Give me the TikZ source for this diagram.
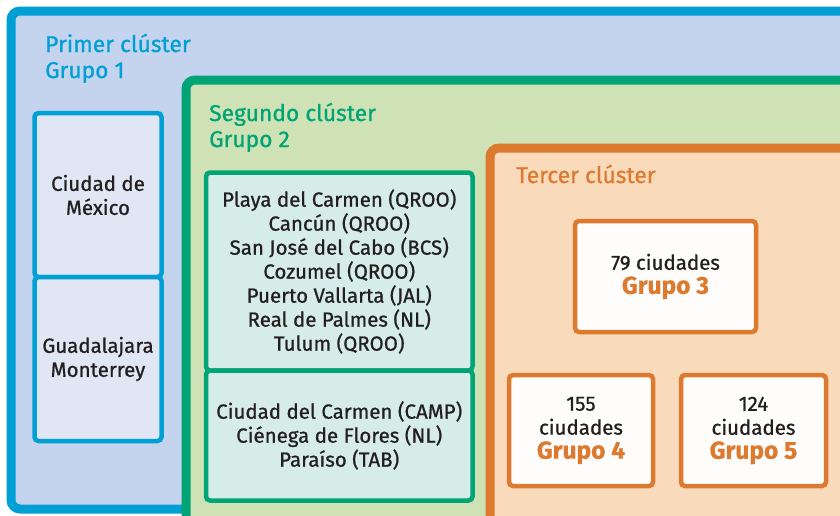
\documentclass[tikz,border=0pt]{standalone}
\usepackage{fontspec}
\setmainfont{Fira Sans}
\newfontfamily\medfont{Fira Sans}[FakeBold=0.8]
\newfontfamily\titlefont{Fira Sans}[FakeBold=0.9]
\definecolor{cblue}{HTML}{009FD4}
\definecolor{cbluefill}{HTML}{C5D4EE}
\definecolor{cblueinner}{HTML}{E0E6F4}
\definecolor{cgreen}{HTML}{00A475}
\definecolor{cgreenfill}{HTML}{CFE2B6}
\definecolor{cgreeninner}{HTML}{D5ECE8}
\definecolor{corange}{HTML}{DC7A30}
\definecolor{corangefill}{HTML}{F9DABA}
\definecolor{corangeinner}{HTML}{FFFDFB}
\definecolor{ctext}{HTML}{231F20}
\newcommand{\grp}[1]{{\color{corange}\fontsize{24.5}{24}\bfseries #1}}
\tikzset{
  outerbox/.style={rectangle, rounded corners=9pt, line width=9pt, inner sep=0pt, outer sep=0pt},
  innerbox/.style={rectangle, rounded corners=4pt, line width=4.5pt, inner sep=0pt, outer sep=0pt,
    align=center, text=ctext, font=\medfont\fontsize{20.5}{24}\selectfont},
  title/.style={anchor=base west, inner sep=0pt, font=\titlefont\fontsize{22.8}{26}\selectfont, align=left},
}
\begin{document}
\begin{tikzpicture}[x=1pt,y=-1pt]
\useasboundingbox (0,0) rectangle (840,515);
\fill[white] (0,0) rectangle (840,515);
\clip (0,0) rectangle (840,515);
% blue cluster
\node[outerbox, draw=cblue, fill=cbluefill, minimum width=859pt, minimum height=498pt] (blue) at (440.5,260) {};
\node[title, text=cblue] (bluet1) at (45,52) {Primer clúster};
\node[title, text=cblue] (bluet2) at (45,78) {Grupo 1};
\node[innerbox, draw=cblue, fill=cblueinner, minimum width=127pt, minimum height=164pt] (cdmx) at (98,195) {Ciudad de\\México};
\node[innerbox, draw=cblue, fill=cblueinner, minimum width=127pt, minimum height=164pt] (gdl) at (98,359) {Guadalajara\\Monterrey};
% green cluster
\node[outerbox, draw=cgreen, fill=cgreenfill, minimum width=680pt, minimum height=460pt] (green) at (526,310) {};
\node[title, text=cgreen] (greent1) at (209,121) {Segundo clúster};
\node[title, text=cgreen] (greent2) at (209,147) {Grupo 2};
\node[innerbox, draw=cgreen, fill=cgreeninner, minimum width=266.5pt, minimum height=198pt] (g2a) at (339.25,271.5) {Playa del Carmen (QROO)\\Cancún (QROO)\\San José del Cabo (BCS)\\Cozumel (QROO)\\Puerto Vallarta (JAL)\\Real de Palmes (NL)\\Tulum (QROO)};
\node[innerbox, draw=cgreen, fill=cgreeninner, minimum width=266.5pt, minimum height=130pt] (g2b) at (339.25,435.5) {Ciudad del Carmen (CAMP)\\Ciénega de Flores (NL)\\Paraíso (TAB)};
% orange cluster
\node[outerbox, draw=corange, fill=corangefill, minimum width=400pt, minimum height=400pt] (orange) at (690,348) {};
\node[title, text=corange] (oranget1) at (516,183) {Tercer clúster};
\node[innerbox, draw=corange, fill=corangeinner, minimum width=181pt, minimum height=111pt] (g3) at (665.5,276.5) {79 ciudades\\\grp{Grupo 3}};
\node[innerbox, draw=corange, fill=corangeinner, minimum width=144pt, minimum height=111pt] (g4) at (581,430.5) {155\\ciudades\\\grp{Grupo 4}};
\node[innerbox, draw=corange, fill=corangeinner, minimum width=145pt, minimum height=111pt] (g5) at (753.5,430.5) {124\\ciudades\\\grp{Grupo 5}};
\end{tikzpicture}
\end{document}
